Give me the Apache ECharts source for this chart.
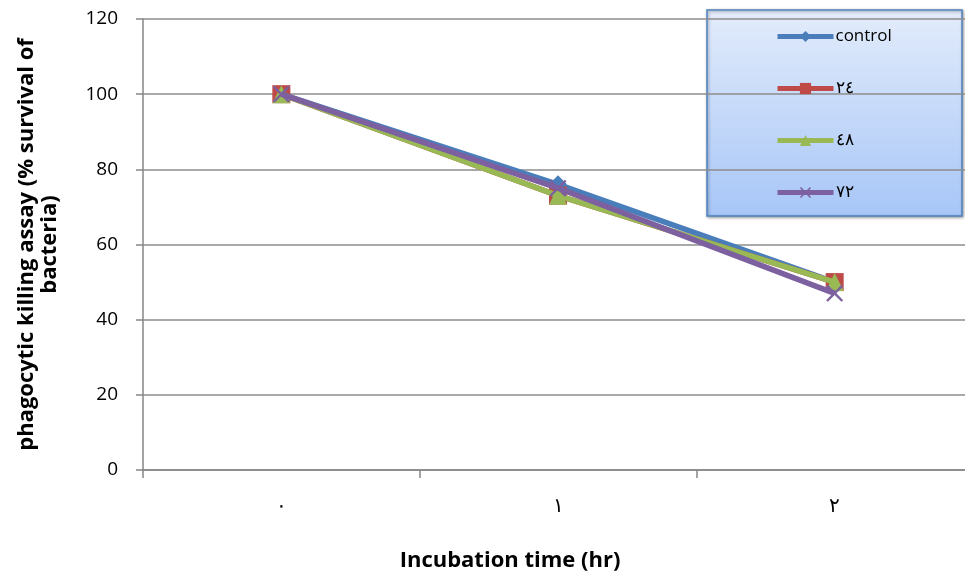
<!DOCTYPE html>
<html>
<head>
<meta charset="utf-8">
<script src="https://cdn.jsdelivr.net/npm/echarts@6/dist/echarts.min.js"></script>
<style>
  html, body { margin: 0; padding: 0; background: #fff; }
  #chart { width: 965px; height: 574px; }
</style>
</head>
<body>
<div id="chart"></div>
<script>
// Incubation time categories (Arabic-Indic digits)
const categories = ['٠', '١', '٢'];
// Series names
const seriesNames = ['control', '٢٤', '٤٨', '٧٢'];
// % survival of bacteria per series
const controlValues = [100, 76, 50];
const h24Values = [100, 73, 50];
const h48Values = [100, 73, 50];
const h72Values = [100, 75, 47];
// Y-axis ticks
const yTicks = [0, 20, 40, 60, 80, 100, 120];

const colors = ['#4a7ebb', '#be4b48', '#98b954', '#7d60a0'];
const crossPath = 'path://M0,1 L1,0 L5,4 L9,0 L10,1 L6,5 L10,9 L9,10 L5,6 L1,10 L0,9 L4,5 Z';
const symbols = ['diamond', 'rect', 'triangle', crossPath];
const symbolSizes = [18, 18, 18, 17];
const valueSets = [controlValues, h24Values, h48Values, h72Values];

const FONT = 'Open Sans';

const chart = echarts.init(document.getElementById('chart'), null, { renderer: 'canvas' });

chart.setOption({
  animation: false,
  backgroundColor: '#ffffff',
  grid: { left: 143, top: 19, right: -8, bottom: 104, containLabel: false, outerBoundsMode: 'none' },
  graphic: [{
    type: 'rect',
    z: 0,
    shape: { x: 707, y: 10, width: 255, height: 206 },
    style: {
      fill: new echarts.graphic.LinearGradient(0, 0, 0, 1, [
        { offset: 0, color: '#e3ecfb' },
        { offset: 1, color: '#a7c6f7' }
      ]),
      stroke: '#4f81bd',
      lineWidth: 1.5,
      shadowBlur: 3,
      shadowColor: 'rgba(0,0,0,0.35)',
      shadowOffsetX: 1,
      shadowOffsetY: 1
    }
  }],
  legend: {
    orient: 'vertical',
    left: 770,
    top: 23,
    itemWidth: 56,
    itemHeight: 14,
    itemGap: 35,
    z: 5,
    lineStyle: { width: 5 },
    textStyle: { fontFamily: FONT, fontSize: 17, color: '#000', padding: [0, 0, 0, -3] },
    data: seriesNames
  },
  xAxis: {
    type: 'category',
    data: categories,
    boundaryGap: true,
    axisLine: { lineStyle: { color: '#868686', width: 1.5 } },
    axisTick: { show: true, length: 8, lineStyle: { color: '#868686', width: 1.5 }, alignWithLabel: false },
    axisLabel: { fontFamily: FONT, fontSize: 20, color: '#000', margin: 26 },
    name: 'Incubation time (hr)',
    nameLocation: 'middle',
    nameGap: 80,
    nameTextStyle: { fontFamily: FONT, fontSize: 22, fontWeight: 'bold', color: '#000', padding: [0, 0, 0, -96] }
  },
  yAxis: {
    type: 'value',
    min: 0,
    max: 120,
    interval: 20,
    axisLine: { show: true, lineStyle: { color: '#868686', width: 1.5 } },
    axisTick: { show: true, length: 7, inside: false, lineStyle: { color: '#868686', width: 1.5 } },
    axisLabel: {
      fontFamily: FONT, fontSize: 19, color: '#000', margin: 25,
      formatter: v => (yTicks.includes(v) ? String(v) : '')
    },
    splitLine: { show: true, lineStyle: { color: '#8c8c8c', width: 1.5 } },
    name: 'phagocytic killing assay (% survival of\nbacteria)',
    nameLocation: 'middle',
    nameGap: 82,
    nameTextStyle: { fontFamily: FONT, fontSize: 22, fontWeight: 'bold', color: '#000', lineHeight: 23, align: 'center' }
  },
  series: seriesNames.map((name, i) => ({
    name,
    type: 'line',
    data: valueSets[i],
    symbol: symbols[i],
    symbolSize: symbolSizes[i],
    showAllSymbol: true,
    lineStyle: { color: colors[i], width: 5.5 },
    itemStyle: { color: colors[i] },
    z: 2 + i
  }))
});
</script>
</body>
</html>
